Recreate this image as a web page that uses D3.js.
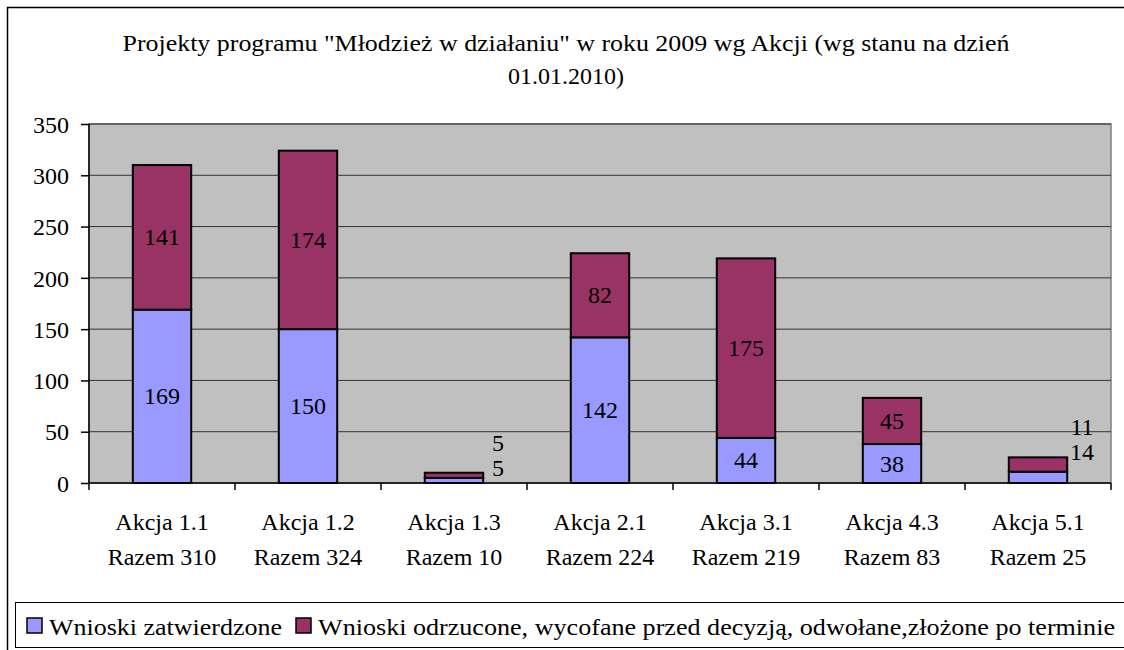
<!DOCTYPE html>
<html><head><meta charset="utf-8">
<script src="https://cdn.jsdelivr.net/npm/d3@7/dist/d3.min.js"></script>
<style>
html,body{margin:0;padding:0;background:#fff;}
</style></head>
<body><svg id="c" width="1124" height="650"></svg>
<script>
const categories = ["Akcja 1.1","Akcja 1.2","Akcja 1.3","Akcja 2.1","Akcja 3.1","Akcja 4.3","Akcja 5.1"];
const totals = ["Razem 310","Razem 324","Razem 10","Razem 224","Razem 219","Razem 83","Razem 25"];
const approved = [169,150,5,142,44,38,11];
const rejected = [141,174,5,82,175,45,14];
const yTicks = [0,50,100,150,200,250,300,350];
const seriesNames = ["Wnioski zatwierdzone","Wnioski odrzucone, wycofane przed decyzją, odwołane,złożone po terminie"];
const titleLines = ["Projekty programu \"Młodzież w działaniu\" w roku 2009 wg Akcji (wg stanu na dzień","01.01.2010)"];
const colors = ["#9999FF","#993366"];
const FF = '"Liberation Serif"';

const svg = d3.select("#c");
svg.append("rect").attr("x",7.5).attr("y",7.5).attr("width",1130).attr("height",660)
  .attr("fill","#fff").attr("stroke","#000").attr("stroke-width",1.5);

const L=89, R=1111, T=124, B=483;
const x = d3.scaleBand().domain(categories).range([L,R]).paddingInner(0.6).paddingOuter(0.3);
const y = d3.scaleLinear().domain([0,350]).range([B,T]);

svg.append("rect").attr("x",L).attr("y",T).attr("width",R-L).attr("height",B-T)
  .attr("fill","#C0C0C0").attr("stroke","#808080").attr("stroke-width",1.5);

svg.append("g").selectAll("line").data(yTicks.filter(d=>d>0)).join("line")
  .attr("x1",L).attr("x2",R).attr("y1",d=>y(d)).attr("y2",d=>y(d))
  .attr("stroke","#333").attr("stroke-width",1);

svg.append("g").selectAll("text").data(titleLines).join("text")
  .attr("x",566).attr("y",(d,i)=>51+i*33).attr("text-anchor","middle")
  .style("font-family",FF).attr("font-size",24).attr("fill","#000")
  .each(function(d,i){ if(i===0) d3.select(this).attr("textLength",887).attr("lengthAdjust","spacingAndGlyphs"); })
  .text(d=>d);

const data = categories.map((c,i)=>({cat:c, a:approved[i], r:rejected[i]}));
const stack = d3.stack().keys(["a","r"])(data);
const g = svg.append("g");
stack.forEach((s,si)=>{
  g.append("g").selectAll("rect").data(s).join("rect")
    .attr("x",d=>x(d.data.cat)).attr("width",x.bandwidth())
    .attr("y",d=>y(d[1])).attr("height",d=>y(d[0])-y(d[1]))
    .attr("fill",colors[si]).attr("stroke","#000").attr("stroke-width",2);
});

stack.forEach((s,si)=>{
  g.append("g").selectAll("text").data(s).join("text")
    .style("font-family",FF).attr("font-size",24).attr("fill","#000")
    .attr("text-anchor","middle")
    .attr("x",d=>{
      const h = y(d[0])-y(d[1]);
      return h<20 ? x(d.data.cat)+x.bandwidth()/2+44 : x(d.data.cat)+x.bandwidth()/2;
    })
    .attr("y",d=>{
      const h = y(d[0])-y(d[1]);
      if(h<20){
        const top = y(d.data.a+d.data.r);
        return (si===0 ? top-30 : top-5) + 8;
      }
      return (y(d[0])+y(d[1]))/2 + 8;
    })
    .text(d=>d[1]-d[0]);
});

const ya = svg.append("g").attr("transform",`translate(${L},0)`)
  .call(d3.axisLeft(y).tickValues(yTicks).tickSize(8).tickPadding(12));
ya.attr("font-family",null);
ya.select(".domain").attr("stroke","#000").attr("stroke-width",1.5).attr("d",`M0,${T}V${B}`);
ya.selectAll(".tick line").attr("stroke","#000").attr("stroke-width",1.5);
ya.selectAll(".tick text").attr("font-size",24).attr("fill","#000").style("font-family",FF).attr("dy","0.34em");

const xa = svg.append("g").attr("transform",`translate(0,${B})`);
xa.append("line").attr("x1",L).attr("x2",R).attr("stroke","#000").attr("stroke-width",1.5);
const bounds = d3.range(categories.length+1).map(i=>L+i*(R-L)/categories.length);
xa.selectAll("line.tk").data(bounds).join("line").attr("class","tk")
  .attr("x1",d=>d).attr("x2",d=>d).attr("y1",0).attr("y2",7)
  .attr("stroke","#000").attr("stroke-width",1.5);
const cl = xa.selectAll("text.cl").data(categories).join("text").attr("class","cl")
  .attr("text-anchor","middle").style("font-family",FF).attr("font-size",24).attr("fill","#000")
  .attr("x",d=>x(d)+x.bandwidth()/2);
cl.append("tspan").attr("x",d=>x(d)+x.bandwidth()/2).attr("y",47).text(d=>d);
cl.append("tspan").attr("x",d=>x(d)+x.bandwidth()/2).attr("y",82).text((d,i)=>totals[i]);

const lg = svg.append("g");
lg.append("rect").attr("x",15.5).attr("y",602.5).attr("width",1130).attr("height",45)
  .attr("fill","#fff").attr("stroke","#000").attr("stroke-width",1);
const lx = [27,296];
const lw = [233,797];
seriesNames.forEach((n,i)=>{
  lg.append("rect").attr("x",lx[i]).attr("y",618).attr("width",15).attr("height",15)
    .attr("fill",colors[i]).attr("stroke","#000").attr("stroke-width",1.5);
  lg.append("text").attr("x",lx[i]+22).attr("y",635).style("font-family",FF).attr("font-size",24)
    .attr("textLength",lw[i]).attr("lengthAdjust","spacingAndGlyphs").attr("fill","#000").text(n);
});
</script></body></html>
